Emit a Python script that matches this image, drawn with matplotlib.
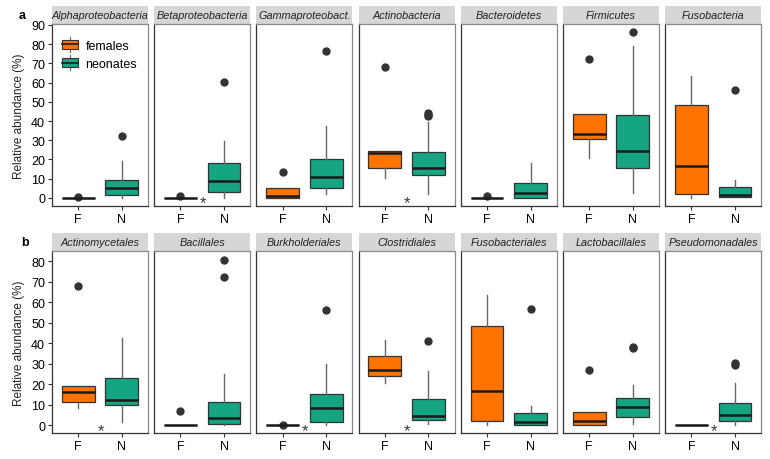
import matplotlib
matplotlib.use("Agg")
import matplotlib.pyplot as plt
from matplotlib.patches import Rectangle
from matplotlib.legend_handler import HandlerBase
from matplotlib.lines import Line2D

plt.rcParams['font.family'] = ['Liberation Sans', 'DejaVu Sans']

# five number summaries: [whisker low, q1, median, q3, whisker high]
taxa_a = ['Alphaproteobacteria', 'Betaproteobacteria', 'Gammaproteobact.',
          'Actinobacteria', 'Bacteroidetes', 'Firmicutes', 'Fusobacteria']
females_a = [[0, 0, 0, 0, 0], [0, 0, 0, 0, 0], [0, 0.2, 1.2, 5.0, 5.0],
             [10.2, 15.6, 23.2, 24.6, 24.6], [0, 0, 0, 0, 0],
             [20.6, 30.7, 33.5, 43.9, 43.9], [0.2, 2.1, 16.6, 48.2, 63.3]]
females_a_out = [[0.6], [0.9], [13.7], [68.3], [1.2], [72.5], []]
neonates_a = [[0, 1.7, 5.4, 9.5, 19.4], [0, 3.3, 9.0, 18.4, 29.8],
              [2.1, 5.4, 10.8, 20.1, 37.3], [2.1, 12.0, 15.8, 23.8, 39.7],
              [0, 0.2, 2.6, 8.0, 18.4], [2.6, 15.6, 24.6, 43.0, 79.1],
              [0.3, 0.3, 1.4, 5.7, 9.4]]
neonates_a_out = [[32.3], [60.2], [76.5], [42.4, 43.4, 44.3], [], [86.2], [56.4]]
signif_a = ['Betaproteobacteria', 'Actinobacteria']

taxa_b = ['Actinomycetales', 'Bacillales', 'Burkholderiales', 'Clostridiales',
          'Fusobacteriales', 'Lactobacillales', 'Pseudomonadales']
females_b = [[8.4, 11.5, 16.4, 19.0, 19.0], [0, 0, 0, 0, 0], [0, 0, 0, 0, 0],
             [20.5, 24.2, 26.9, 33.8, 41.7], [0.3, 2.1, 16.7, 48.5, 63.5],
             [0.2, 0.2, 2.1, 6.7, 6.7], [0, 0, 0, 0, 0]]
females_b_out = [[67.7], [7.0], [0.2], [], [], [26.9], []]
neonates_b = [[1.8, 9.7, 12.3, 23.1, 42.5], [0, 0.8, 3.4, 11.4, 25.2],
              [0.3, 1.8, 8.4, 15.1, 29.9], [0.6, 2.8, 4.7, 12.8, 26.5],
              [0.2, 0.2, 1.8, 5.8, 9.6], [0.5, 3.9, 8.8, 13.3, 19.8],
              [0.3, 1.9, 4.9, 10.9, 20.5]]
neonates_b_out = [[], [72.4, 80.7], [56.3], [41.1], [56.7], [37.8, 38.3], [29.6, 30.3]]
signif_b = ['Actinomycetales', 'Burkholderiales', 'Clostridiales', 'Pseudomonadales']

groups = ['F', 'N']
col_f = '#FF7300'
col_n = '#15A583'
dark = '#333333'

W, H = 770, 460
fig = plt.figure(figsize=(7.7, 4.6), dpi=100)


def stats(five, out, label):
    return dict(whislo=five[0], q1=five[1], med=five[2], q3=five[3],
                whishi=five[4], fliers=out, label=label)


def draw_row(top, bottom, taxa, fem, fem_out, neo, neo_out, signif, ylim, yticks):
    axes = []
    for i, name in enumerate(taxa):
        left = 52 + i * 102.2
        ax = fig.add_axes([left / W, 1 - bottom / H, 96 / W, (bottom - top) / H])
        st = [stats(fem[i], fem_out[i], 'F'), stats(neo[i], neo_out[i], 'N')]
        bp = ax.bxp(st, positions=[1, 2], widths=0.75, patch_artist=True,
                    showcaps=False,
                    boxprops=dict(edgecolor=dark, linewidth=0.9),
                    whiskerprops=dict(color='#666666', linewidth=1.0),
                    medianprops=dict(color='#1a1a1a', linewidth=1.8),
                    flierprops=dict(marker='o', markersize=5, markerfacecolor=dark,
                                    markeredgecolor=dark))
        bp['boxes'][0].set_facecolor(col_f)
        bp['boxes'][1].set_facecolor(col_n)
        if name in signif:
            ax.text(1.52, -2.4, '*', ha='center', va='center', fontsize=12, color='#3a3a3a')
        ax.set_xlim(0.4, 2.6)
        ax.set_ylim(*ylim)
        ax.set_xticks([1, 2])
        ax.set_xticklabels(groups, fontsize=9)
        ax.tick_params(axis='x', length=3, color=dark, pad=2)
        for s in ['top', 'right']:
            ax.spines[s].set_color('#888888')
        for s in ['left', 'bottom']:
            ax.spines[s].set_color(dark)
        for s in ax.spines.values():
            s.set_linewidth(0.9)
        if i == 0:
            ax.set_yticks(yticks)
            ax.tick_params(axis='y', length=3, labelsize=9, color=dark, pad=2)
            ax.set_ylabel('Relative abundance (%)', fontsize=8.5, color='#222222', labelpad=4)
        else:
            ax.set_yticks([])
        h = 18 / (bottom - top)
        ax.add_patch(Rectangle((0, 1), 1, h, transform=ax.transAxes, clip_on=False,
                               facecolor='#D6D6D6', edgecolor='none'))
        ax.text(0.5, 1 + h / 2, name, transform=ax.transAxes, ha='center', va='center',
                fontsize=7.8, style='italic', color='#222222')
        axes.append(ax)
    return axes


class BoxHandler(HandlerBase):
    def __init__(self, color):
        super().__init__()
        self.color = color

    def create_artists(self, legend, orig_handle, xdescent, ydescent, width, height, fontsize, trans):
        bw = width * 0.8
        x0 = (width - bw) / 2 - xdescent
        r = Rectangle((x0, -ydescent), bw, height, facecolor=self.color, edgecolor=dark,
                      linewidth=0.8, transform=trans)
        m = Line2D([x0, x0 + bw], [height / 2 - ydescent] * 2, color='#1a1a1a', lw=1.2, transform=trans)
        cx = width / 2 - xdescent
        w1 = Line2D([cx, cx], [height - ydescent, height * 1.35 - ydescent], color='#666666', lw=0.8, transform=trans)
        w2 = Line2D([cx, cx], [-ydescent, -height * 0.35 - ydescent], color='#666666', lw=0.8, transform=trans)
        return [w1, w2, r, m]


row_a = draw_row(25, 207, taxa_a, females_a, females_a_out, neonates_a, neonates_a_out,
                 signif_a, (-4.2, 90.5), [0, 10, 20, 30, 40, 50, 60, 70, 80, 90])
row_b = draw_row(252, 434, taxa_b, females_b, females_b_out, neonates_b, neonates_b_out,
                 signif_b, (-3.7, 84.9), [0, 10, 20, 30, 40, 50, 60, 70, 80])

h_f = Rectangle((0, 0), 1, 1)
h_n = Rectangle((0, 0), 1, 1)
row_a[0].legend([h_f, h_n], ['females', 'neonates'], loc='upper left',
                bbox_to_anchor=(-0.03, 0.975), frameon=False, fontsize=9,
                handler_map={h_f: BoxHandler(col_f), h_n: BoxHandler(col_n)},
                handlelength=1.6, handleheight=0.7, labelspacing=0.5, handletextpad=0.4)

fig.text(22 / W, 1 - 16 / H, 'a', fontsize=9, fontweight='bold', ha='center', va='center')
fig.text(25 / W, 1 - 243 / H, 'b', fontsize=9, fontweight='bold', ha='center', va='center')

fig.savefig('out.png', dpi=100)
